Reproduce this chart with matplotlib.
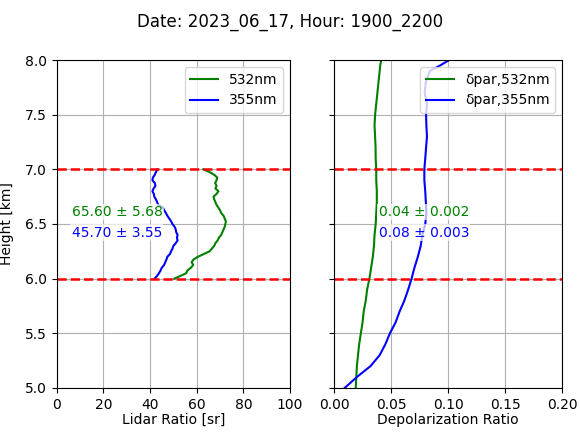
import numpy as np
import matplotlib
matplotlib.use("Agg")
import matplotlib.pyplot as plt

# lidar ratio profiles inside the layer (6-7 km)
h_lr = [6.000, 6.025, 6.050, 6.075, 6.100, 6.125, 6.150, 6.175, 6.200, 6.225,
        6.250, 6.275, 6.300, 6.325, 6.350, 6.375, 6.400, 6.425, 6.450, 6.475,
        6.500, 6.525, 6.550, 6.575, 6.600, 6.625, 6.650, 6.675, 6.700, 6.725,
        6.750, 6.775, 6.800, 6.825, 6.850, 6.875, 6.900, 6.925, 6.950, 6.975, 7.000]
lr_532 = [50.4, 53.0, 55.5, 56.0, 57.5, 58.5, 57.8, 58.6, 60.5, 63.0,
          65.5, 66.5, 67.5, 68.0, 69.0, 69.5, 70.5, 71.0, 71.5, 72.0,
          72.3, 72.5, 72.0, 71.5, 70.5, 70.0, 69.3, 68.5, 68.0, 67.5,
          67.2, 68.5, 69.3, 68.0, 68.5, 67.9, 68.5, 68.8, 67.5, 65.5, 62.8]
lr_355 = [41.9, 43.0, 43.8, 44.5, 45.0, 46.0, 46.5, 47.0, 47.4, 48.5,
          49.0, 49.6, 50.0, 51.0, 51.8, 51.5, 51.8, 51.2, 51.0, 50.5,
          49.6, 49.0, 48.2, 47.4, 46.8, 46.0, 45.5, 43.5, 43.0, 42.5,
          41.8, 41.6, 41.0, 41.5, 42.3, 42.0, 41.0, 41.2, 42.0, 42.5, 43.1]

# particle depolarization profiles
h_dp = [5.0, 5.1, 5.2, 5.3, 5.4, 5.5, 5.6, 5.7, 5.8, 5.9, 6.0, 6.1, 6.2, 6.3, 6.4, 6.5,
        6.6, 6.7, 6.8, 6.9, 7.0, 7.1, 7.2, 7.3, 7.4, 7.5, 7.6, 7.7, 7.8, 7.9, 7.95, 8.0]
dp_532 = [0.019, 0.0195, 0.020, 0.021, 0.022, 0.0235, 0.025, 0.026, 0.0278, 0.029,
          0.031, 0.0325, 0.034, 0.035, 0.0355, 0.0365, 0.037, 0.0375, 0.0375, 0.037,
          0.037, 0.0365, 0.0364, 0.036, 0.0355, 0.036, 0.037, 0.038, 0.039, 0.040,
          0.0405, 0.0413]
dp_355 = [0.0093, 0.020, 0.032, 0.040, 0.045, 0.049, 0.054, 0.0575, 0.0617, 0.065,
          0.068, 0.0705, 0.0735, 0.076, 0.0775, 0.080, 0.081, 0.0805, 0.080, 0.0792,
          0.0792, 0.080, 0.0807, 0.0815, 0.081, 0.0807, 0.0815, 0.0795, 0.0805, 0.084,
          0.093, 0.101]

layer = [6.0, 7.0]
lr_text = ["65.60 \u00b1 5.68", "45.70 \u00b1 3.55"]
dp_text = ["0.04 \u00b1 0.002", "0.08 \u00b1 0.003"]

fig = plt.figure(figsize=(5.8, 4.32), dpi=100)
ax1 = fig.add_axes([0.098, 0.102, 0.402, 0.759])
ax2 = fig.add_axes([0.576, 0.102, 0.393, 0.759], sharey=ax1)

txt_box = dict(facecolor="white", edgecolor="none", alpha=0.7, pad=1)

ax1.plot(lr_532, h_lr, color="green", lw=1.5, label="532nm")
ax1.plot(lr_355, h_lr, color="blue", lw=1.5, label="355nm")
for h in layer:
    ax1.axhline(h, color="red", ls="--", lw=1.8)
ax1.text(6.3, 6.61, lr_text[0], color="green", fontsize=10, va="center", bbox=txt_box)
ax1.text(6.3, 6.42, lr_text[1], color="blue", fontsize=10, va="center", bbox=txt_box)
ax1.set_xlim(0, 100)
ax1.set_ylim(5, 8)
ax1.set_yticks(np.arange(5, 8.01, 0.5))
ax1.set_xlabel("Lidar Ratio [sr]", labelpad=1)
ax1.set_ylabel("Height [km]")
ax1.yaxis.set_label_coords(-0.185, 0.5)
ax1.grid(True)
ax1.legend(loc="upper right")

ax2.plot(dp_532, h_dp, color="green", lw=1.5, label="\u03b4par,532nm")
ax2.plot(dp_355, h_dp, color="blue", lw=1.5, label="\u03b4par,355nm")
for h in layer:
    ax2.axhline(h, color="red", ls="--", lw=1.8)
ax2.text(0.039, 6.61, dp_text[0], color="green", fontsize=10, va="center", bbox=txt_box)
ax2.text(0.039, 6.42, dp_text[1], color="blue", fontsize=10, va="center", bbox=txt_box)
ax2.set_xlim(0, 0.2)
ax2.set_xticks([0.0, 0.05, 0.10, 0.15, 0.20])
ax2.set_xticklabels(["0.00", "0.05", "0.10", "0.15", "0.20"])
ax2.set_xlabel("Depolarization Ratio", labelpad=1)
ax2.tick_params(labelleft=False)
ax2.grid(True)
ax2.legend(loc="upper right")

fig.suptitle("Date: 2023_06_17, Hour: 1900_2200", fontsize=12, y=0.97)

fig.savefig("out.png", dpi=100)
